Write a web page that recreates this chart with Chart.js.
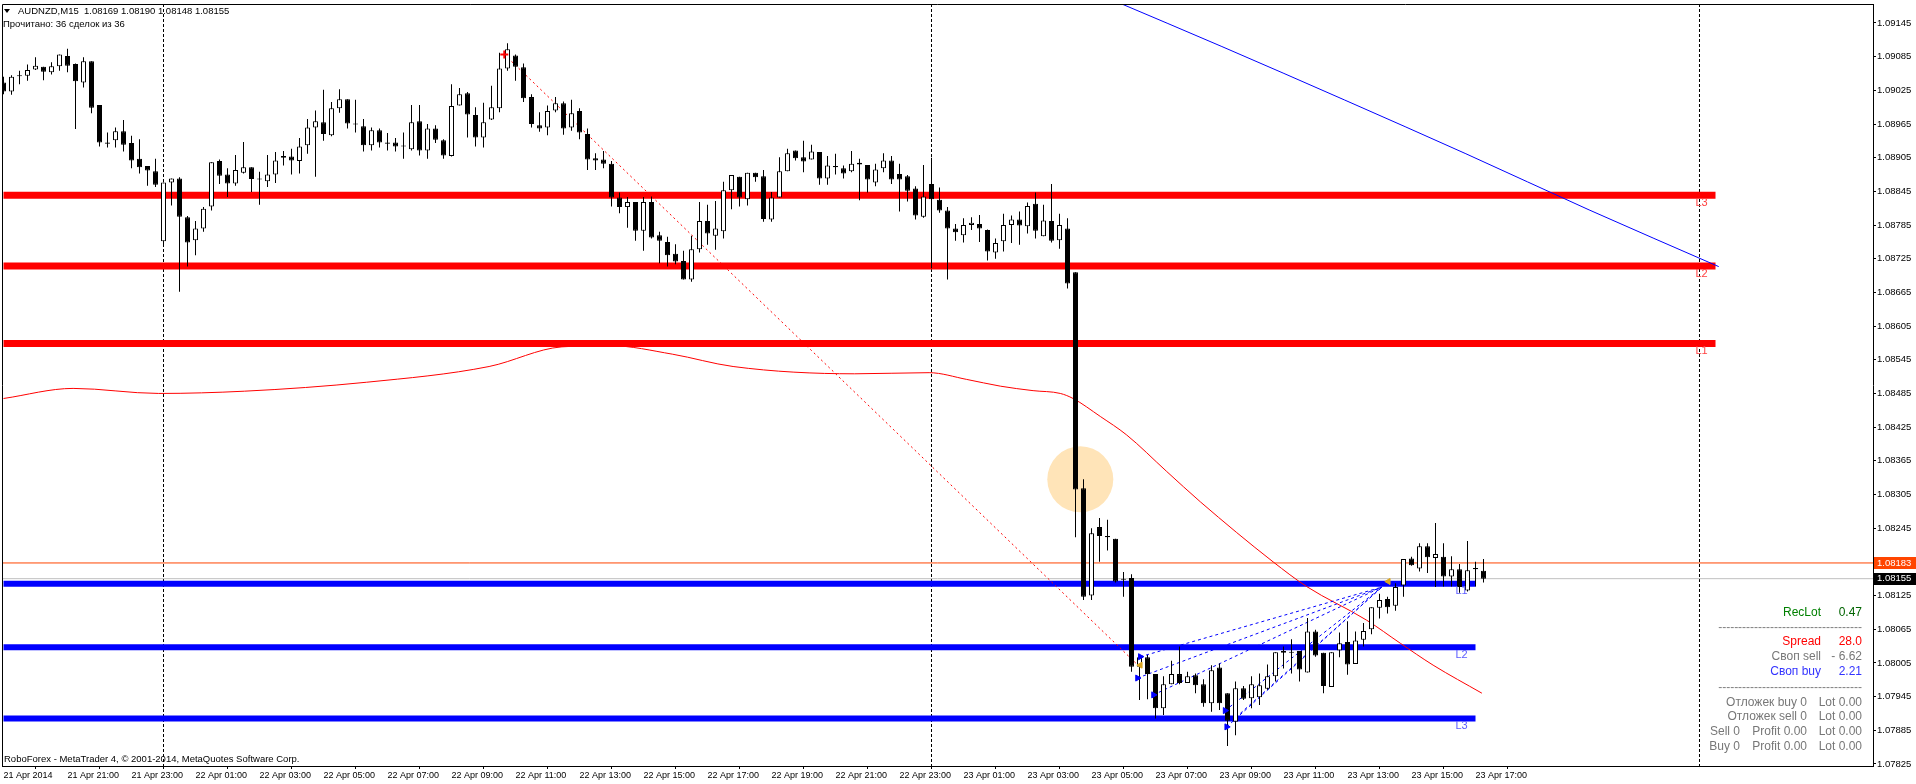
<!DOCTYPE html>
<html>
<head>
<meta charset="utf-8">
<script src="https://cdn.jsdelivr.net/npm/chart.js@4.4.1/dist/chart.umd.min.js"></script>
<style>
html, body { margin: 0; padding: 0; background: #fff; }
canvas { display: block; }
</style>
</head>
<body>
<canvas id="chart" width="1916" height="784"></canvas>
<script>
// AUDNZD M15 bars, first bar = 21 Apr 19:00
const opens = [
1.09039,1.09023,1.09050,1.09051,1.09062,1.09067,1.09057,1.09068,1.09086,1.09072,
1.09039,1.09077,1.08999,1.08932,1.08936,1.08952,1.08931,1.08903,1.08890,1.08881,
1.08756,1.08861,1.08868,1.08799,1.08758,1.08779,1.08818,1.08899,1.08875,1.08859,
1.08878,1.08888,1.08867,1.08863,1.08875,1.08908,1.08907,1.08899,1.08927,1.08959,
1.08968,1.08945,1.08993,1.09009,1.08966,1.08961,1.08927,1.08954,1.08932,1.08932,
1.08925,1.08920,1.08970,1.08918,1.08957,1.08936,1.08908,1.08998,1.09020,1.08981,
1.08941,1.08973,1.08993,1.09064,1.09087,1.09066,1.09013,1.08963,1.08959,1.08989,
1.09002,1.08959,1.08988,1.08947,1.08904,1.08902,1.08894,1.08834,1.08817,1.08826,
1.08775,1.08826,1.08767,1.08755,1.08734,1.08721,1.08688,1.08742,1.08792,1.08766,
1.08774,1.08847,1.08871,1.08831,1.08878,1.08872,1.08795,1.08834,1.08881,1.08918,
1.08906,1.08902,1.08915,1.08868,1.08890,1.08886,1.08881,1.08896,1.08892,1.08861,
1.08886,1.08900,1.08876,1.08872,1.08850,1.08800,1.08858,1.08830,1.08811,1.08779,
1.08767,1.08785,1.08787,1.08776,1.08736,1.08756,1.08785,1.08795,1.08783,1.08823,
1.08765,1.08792,1.08758,1.08779,1.08701,1.08316,1.08125,1.08247,1.08231,1.08226,
1.08155,1.08156,1.07998,1.08015,1.07985,1.07924,1.07967,1.07985,1.07969,1.07983,
1.07967,1.07933,1.07997,1.07951,1.07900,1.07960,1.07942,1.07944,1.07959,1.07981,
1.08026,1.08024,1.08026,1.07988,1.08061,1.08023,1.07962,1.08027,1.08042,1.08003,
1.08046,1.08065,1.08103,1.08119,1.08107,1.08143,1.08191,1.08173,1.08213,1.08192,
1.08194,1.08159,1.08172,1.08134,1.08174,1.08169];
const highs = [
1.09049,1.09052,1.09060,1.09071,1.09084,1.09067,1.09075,1.09089,1.09099,1.09073,
1.09084,1.09077,1.08999,1.08950,1.08959,1.08972,1.08944,1.08938,1.08890,1.08903,
1.08861,1.08868,1.08870,1.08801,1.08792,1.08817,1.08897,1.08902,1.08886,1.08910,
1.08933,1.08888,1.08880,1.08910,1.08915,1.08917,1.08921,1.08940,1.08974,1.08989,
1.09026,1.09004,1.09027,1.09009,1.09008,1.08974,1.08959,1.08957,1.08949,1.08940,
1.08950,1.08999,1.08999,1.08965,1.08963,1.08938,1.09036,1.09029,1.09022,1.08995,
1.09003,1.09033,1.09092,1.09109,1.09089,1.09073,1.09018,1.08986,1.08998,1.09013,
1.09005,1.09008,1.08993,1.08957,1.08913,1.08917,1.08899,1.08843,1.08835,1.08826,
1.08835,1.08836,1.08773,1.08764,1.08751,1.08739,1.08766,1.08826,1.08821,1.08828,
1.08862,1.08874,1.08871,1.08878,1.08878,1.08883,1.08844,1.08906,1.08921,1.08918,
1.08935,1.08928,1.08915,1.08908,1.08912,1.08891,1.08917,1.08903,1.08892,1.08894,
1.08913,1.08908,1.08894,1.08874,1.08854,1.08892,1.08905,1.08852,1.08817,1.08787,
1.08797,1.08799,1.08803,1.08777,1.08761,1.08805,1.08802,1.08809,1.08825,1.08843,
1.08821,1.08858,1.08805,1.08797,1.08701,1.08332,1.08245,1.08263,1.08260,1.08226,
1.08167,1.08163,1.08020,1.08019,1.07985,1.07981,1.08009,1.08034,1.07989,1.07986,
1.07976,1.08001,1.08004,1.07951,1.07972,1.07964,1.07981,1.07986,1.08002,1.08024,
1.08034,1.08047,1.08026,1.08085,1.08064,1.08023,1.08024,1.08059,1.08079,1.08061,
1.08076,1.08104,1.08128,1.08123,1.08147,1.08190,1.08194,1.08218,1.08218,1.08254,
1.08218,1.08195,1.08181,1.08222,1.08185,1.08190];
const lows = [
1.09018,1.09017,1.09036,1.09042,1.09061,1.09043,1.09053,1.09060,1.09057,1.08956,
1.09030,1.08984,1.08925,1.08923,1.08923,1.08916,1.08886,1.08877,1.08855,1.08853,
1.08748,1.08820,1.08666,1.08711,1.08731,1.08773,1.08811,1.08858,1.08835,1.08855,
1.08877,1.08844,1.08821,1.08853,1.08860,1.08891,1.08875,1.08877,1.08912,1.08871,
1.08935,1.08943,1.08985,1.08957,1.08950,1.08916,1.08918,1.08923,1.08918,1.08916,
1.08903,1.08918,1.08909,1.08903,1.08931,1.08903,1.08907,1.08998,1.08941,1.08925,
1.08923,1.08972,1.08986,1.09060,1.09042,1.09004,1.08959,1.08951,1.08945,1.08986,
1.08946,1.08953,1.08938,1.08883,1.08883,1.08886,1.08818,1.08806,1.08780,1.08757,
1.08739,1.08761,1.08717,1.08711,1.08715,1.08688,1.08684,1.08736,1.08750,1.08741,
1.08761,1.08813,1.08818,1.08820,1.08862,1.08791,1.08791,1.08834,1.08881,1.08900,
1.08879,1.08902,1.08857,1.08857,1.08875,1.08868,1.08879,1.08829,1.08843,1.08854,
1.08879,1.08858,1.08809,1.08827,1.08795,1.08798,1.08708,1.08807,1.08688,1.08757,
1.08754,1.08776,1.08755,1.08722,1.08725,1.08738,1.08753,1.08750,1.08770,1.08761,
1.08765,1.08754,1.08743,1.08672,1.08229,1.08117,1.08117,1.08185,1.08205,1.08148,
1.08123,1.07989,1.07939,1.07940,1.07906,1.07912,1.07967,1.07967,1.07969,1.07951,
1.07927,1.07918,1.07921,1.07857,1.07876,1.07939,1.07924,1.07930,1.07957,1.07972,
1.07995,1.07986,1.07972,1.07988,1.08016,1.07951,1.07962,1.08015,1.07984,1.08003,
1.08034,1.08056,1.08084,1.08093,1.08098,1.08123,1.08178,1.08168,1.08165,1.08140,
1.08141,1.08141,1.08130,1.08132,1.08141,1.08148];
const closes = [
1.09023,1.09049,1.09051,1.09061,1.09069,1.09058,1.09068,1.09089,1.09069,1.09041,
1.09077,1.08994,1.08932,1.08930,1.08952,1.08928,1.08900,1.08888,1.08882,1.08857,
1.08861,1.08868,1.08800,1.08754,1.08779,1.08814,1.08897,1.08873,1.08859,1.08883,
1.08888,1.08867,1.08866,1.08875,1.08900,1.08905,1.08900,1.08925,1.08959,1.08970,
1.08947,1.08993,1.09009,1.08966,1.08964,1.08927,1.08954,1.08932,1.08930,1.08925,
1.08926,1.08968,1.08918,1.08957,1.08937,1.08909,1.08997,1.09018,1.08982,1.08941,
1.08968,1.08995,1.09064,1.09098,1.09067,1.09011,1.08965,1.08957,1.08988,1.09002,
1.08957,1.08984,1.08950,1.08902,1.08900,1.08894,1.08834,1.08817,1.08826,1.08775,
1.08826,1.08763,1.08757,1.08731,1.08720,1.08688,1.08742,1.08792,1.08770,1.08779,
1.08847,1.08874,1.08834,1.08878,1.08870,1.08796,1.08834,1.08881,1.08913,1.08904,
1.08898,1.08916,1.08868,1.08891,1.08888,1.08877,1.08894,1.08893,1.08866,1.08884,
1.08900,1.08866,1.08866,1.08846,1.08802,1.08836,1.08831,1.08811,1.08779,1.08772,
1.08785,1.08789,1.08779,1.08738,1.08753,1.08785,1.08795,1.08784,1.08819,1.08775,
1.08793,1.08757,1.08785,1.08681,1.08314,1.08123,1.08236,1.08231,1.08229,1.08150,
1.08153,1.07998,1.08015,1.07985,1.07924,1.07967,1.07985,1.07969,1.07981,1.07965,
1.07933,1.07992,1.07933,1.07902,1.07960,1.07941,1.07967,1.07965,1.07981,1.08024,
1.08023,1.08023,1.07993,1.08061,1.08018,1.07964,1.08024,1.08040,1.08002,1.08045,
1.08062,1.08104,1.08117,1.08104,1.08140,1.08190,1.08179,1.08213,1.08193,1.08199,
1.08159,1.08172,1.08140,1.08170,1.08172,1.08155];

// time axis: one label every 8 bars
const timeTicks = [0,8,16,24,32,40,48,56,64,72,80,88,96,104,112,120,128,136,144,152,160,168,176,184];
const timeLabels = ['21 Apr 2014','21 Apr 21:00','21 Apr 23:00','22 Apr 01:00','22 Apr 03:00','22 Apr 05:00',
  '22 Apr 07:00','22 Apr 09:00','22 Apr 11:00','22 Apr 13:00','22 Apr 15:00','22 Apr 17:00','22 Apr 19:00',
  '22 Apr 21:00','22 Apr 23:00','23 Apr 01:00','23 Apr 03:00','23 Apr 05:00','23 Apr 07:00','23 Apr 09:00',
  '23 Apr 11:00','23 Apr 13:00','23 Apr 15:00','23 Apr 17:00'];
const priceTicks = [1.07825,1.07885,1.07945,1.08005,1.08065,1.08125,1.08185,1.08245,1.08305,1.08365,1.08425,
  1.08485,1.08545,1.08605,1.08665,1.08725,1.08785,1.08845,1.08905,1.08965,1.09025,1.09085,1.09145];
const daySeparators = [20, 116, 212];

// levels drawn by the indicator
const redLevels = [1.08838, 1.08712, 1.08574];
const redNames = ['L3', 'L2', 'L1'];
const redLevelEnd = 214;
const blueLevels = [1.08146, 1.08033, 1.07906];
const blueNames = ['L1', 'L2', 'L3'];
const blueLevelEnd = 184;
const askPrice = 1.08183;
const bidPrice = 1.08155;

// moving averages
const maRedX = [0,8.7,19.4,30.1,45.4,60.7,69.8,75.9,83.6,91.2,106.4,115.7,120.4,124.6,128.7,132.1,133.7,137.1,140.4,145.4,149.6,158.7,162.9,170.4,174.6,178.7,184.8];
const maRedY = [1.08476,1.08494,1.08485,1.08489,1.08505,1.08533,1.08568,1.08570,1.08555,1.08533,1.08520,1.08522,1.08510,1.08498,1.08490,1.08485,1.08476,1.08444,1.08411,1.08346,1.08292,1.08185,1.08141,1.08081,1.08040,1.08001,1.07951];
const maBlueX = [138.6,152.3,167.6,182.8,198.2,214.4];
const maBlueY = [1.09186,1.09103,1.09008,1.08912,1.08812,1.08711];

// trade lines
const trendX = [62.6, 141.8];
const trendY = [1.09089, 1.08001];
const fanStartX = [142.1, 141.75, 143.75, 152.7, 152.9, 154.6];
const fanStartY = [1.08016, 1.07978, 1.07948, 1.07920, 1.07891, 1.07915];
const fanEndX = 172.3;
const fanEndY = 1.08140;
const orangeMarkX = [142.1, 173.1];
const orangeMarkY = [1.08001, 1.08150];
const circleX = 134.6;
const circleY = 1.08332;

Chart.defaults.font.family = "'Liberation Sans', Arial, sans-serif";
Chart.defaults.color = '#000';

const idx = opens.map((_, i) => i);
const ctx = document.getElementById('chart').getContext('2d');

function hLine(y, x1, color, w) {
  return { type: 'line', data: [{ x: 0, y: y }, { x: x1, y: y }], borderColor: color, borderWidth: w,
    pointRadius: 0, order: 6, clip: 0 };
}

const datasets = [];
// candle bodies and wicks
datasets.push({
  type: 'bar', label: 'body', order: 0, grouped: false,
  data: idx.map(i => ({ x: i, y: [opens[i], closes[i]] })),
  backgroundColor: idx.map(i => closes[i] > opens[i] ? '#ffffff' : '#000000'),
  borderColor: '#000', borderWidth: 1, borderSkipped: false, barThickness: 5,
  minBarLength: 1, inflateAmount: 0
});
datasets.push({
  type: 'bar', label: 'wick', order: 1, grouped: false,
  data: idx.map(i => ({ x: i, y: [lows[i], highs[i]] })),
  backgroundColor: '#000', borderWidth: 0, barThickness: 1, inflateAmount: 0
});
redLevels.forEach(v => datasets.push(hLine(v, redLevelEnd, '#ff0000', 7)));
blueLevels.forEach(v => datasets.push(hLine(v, blueLevelEnd, '#0000ff', 6)));
datasets.push({ type: 'line', data: [{ x: -1, y: askPrice }, { x: 240, y: askPrice }], borderColor: '#ff4500',
  borderWidth: 1, pointRadius: 0, order: 5, clip: 0 });
datasets.push({ type: 'line', data: [{ x: -1, y: bidPrice }, { x: 240, y: bidPrice }], borderColor: '#c0c0c0',
  borderWidth: 1, pointRadius: 0, order: 5, clip: 0 });
datasets.push({ type: 'line', data: maRedX.map((x, i) => ({ x: x, y: maRedY[i] })), borderColor: '#ff0000',
  borderWidth: 1, pointRadius: 0, cubicInterpolationMode: 'monotone', order: 4, clip: 0 });
datasets.push({ type: 'line', data: maBlueX.map((x, i) => ({ x: x, y: maBlueY[i] })), borderColor: '#0000ff',
  borderWidth: 1, pointRadius: 0, cubicInterpolationMode: 'monotone', order: 4, clip: 0 });
datasets.push({ type: 'line', data: trendX.map((x, i) => ({ x: x, y: trendY[i] })), borderColor: '#ff0000',
  borderWidth: 1, borderDash: [2, 3], pointRadius: 0, order: 3, clip: 0 });
fanStartX.forEach((x, i) => datasets.push({ type: 'line',
  data: [{ x: x, y: fanStartY[i] }, { x: fanEndX, y: fanEndY }], borderColor: '#0000ff',
  borderWidth: 1, borderDash: [3, 3], pointRadius: 0, order: 3, clip: 0 }));
datasets.push({ type: 'scatter', data: [{ x: circleX, y: circleY }], pointRadius: 33,
  backgroundColor: '#ffe4b8', borderWidth: 0, order: 9, clip: 0 });
datasets.push({ type: 'scatter', data: fanStartX.slice(0, 5).map((x, i) => ({ x: x, y: fanStartY[i] })),
  pointStyle: 'triangle', rotation: 90, pointRadius: 3.5, backgroundColor: '#0000ff', borderColor: '#0000ff',
  order: -1, clip: 0 });
datasets.push({ type: 'scatter', data: orangeMarkX.map((x, i) => ({ x: x, y: orangeMarkY[i] })),
  pointStyle: 'triangle', rotation: -90, pointRadius: 3.5, backgroundColor: '#daa520', borderColor: '#daa520',
  order: -1, clip: 0 });
datasets.push({ type: 'scatter', data: [{ x: trendX[0], y: trendY[0] }], pointStyle: 'cross',
  pointRadius: 4, borderWidth: 2, borderColor: '#ff0000', order: -1, clip: 0 });

const terminal = {
  id: 'terminal',
  beforeDatasetsDraw(chart) {
    const { ctx, chartArea: a, scales: { x } } = chart;
    ctx.save();
    ctx.strokeStyle = '#000';
    ctx.lineWidth = 1;
    ctx.setLineDash([3, 2]);
    daySeparators.forEach(i => {
      const px = x.getPixelForValue(i);
      ctx.beginPath();
      ctx.moveTo(px, a.top);
      ctx.lineTo(px, a.bottom);
      ctx.stroke();
    });
    ctx.restore();
  },
  afterDatasetsDraw(chart) {
    const { ctx, scales: { x, y } } = chart;
    ctx.save();
    ctx.font = "11px 'Liberation Sans'";
    ctx.textBaseline = 'top';
    ctx.fillStyle = '#ff4040';
    redLevels.forEach((v, i) => ctx.fillText(redNames[i], x.getPixelForValue(redLevelEnd) - 20, y.getPixelForValue(v) + 2));
    ctx.fillStyle = '#5c5cff';
    blueLevels.forEach((v, i) => ctx.fillText(blueNames[i], x.getPixelForValue(blueLevelEnd) - 20, y.getPixelForValue(v) + 2));
    ctx.restore();
  },
  afterDraw(chart) {
    const { ctx, chartArea: a, scales: { y } } = chart;
    ctx.save();
    // frame
    ctx.strokeStyle = '#000';
    ctx.lineWidth = 1;
    ctx.beginPath();
    ctx.moveTo(a.left + 0.5, a.bottom);
    ctx.lineTo(a.left + 0.5, a.top + 0.5);
    ctx.lineTo(a.right, a.top + 0.5);
    ctx.stroke();

    // header
    ctx.fillStyle = '#000';
    ctx.beginPath();
    ctx.moveTo(4, 9); ctx.lineTo(10, 9); ctx.lineTo(7, 13); ctx.closePath(); ctx.fill();
    ctx.font = "9.5px 'Liberation Sans'";
    ctx.textBaseline = 'middle';
    ctx.textAlign = 'left';
    ctx.fillText('AUDNZD,M15  1.08169 1.08190 1.08148 1.08155', 18, 11);
    ctx.fillText('Прочитано: 36 сделок из 36', 3, 24);
    ctx.fillText('RoboForex - MetaTrader 4, © 2001-2014, MetaQuotes Software Corp.', 4, 759);

    // price tags on the axis
    [[askPrice, '#ff4500'], [bidPrice, '#000000']].forEach(([v, c]) => {
      const py = y.getPixelForValue(v);
      ctx.fillStyle = c;
      ctx.fillRect(a.right + 1, Math.round(py) - 6, 1916 - a.right - 1, 12);
      ctx.fillStyle = '#fff';
      ctx.fillText(v.toFixed(5), a.right + 4, py);
    });

    // info panel
    const R1 = 1821, R2 = 1862;
    ctx.font = "12px 'Liberation Sans'";
    ctx.textAlign = 'right';
    const row = (txt, xr, yy, col) => { ctx.fillStyle = col; ctx.fillText(txt, xr, yy); };
    row('RecLot', R1, 613, '#008000'); row('0.47', R2, 613, '#006400');
    row('-'.repeat(36), R2, 628, '#808080');
    row('Spread', R1, 642, '#ff0000'); row('28.0', R2, 642, '#ff0000');
    row('Своп sell', R1, 657, '#777777'); row('- 6.62', R2, 657, '#777777');
    row('Своп buy', R1, 672, '#3333ff'); row('2.21', R2, 672, '#3333ff');
    row('-'.repeat(36), R2, 688, '#808080');
    row('Отложек buy 0', 1807, 703, '#777777'); row('Lot 0.00', R2, 703, '#777777');
    row('Отложек sell 0', 1807, 717, '#777777'); row('Lot 0.00', R2, 717, '#777777');
    row('Sell 0', 1740, 732, '#777777'); row('Profit 0.00', 1807, 732, '#777777'); row('Lot 0.00', R2, 732, '#777777');
    row('Buy 0', 1740, 747, '#777777'); row('Profit 0.00', 1807, 747, '#777777'); row('Lot 0.00', R2, 747, '#777777');
    ctx.restore();
  }
};

// drop any label overflow padding so the plot keeps MT4's fixed frame
function noPad(s) { s.paddingLeft = 0; s.paddingRight = 0; s.paddingTop = 0; s.paddingBottom = 0; }

const chart = new Chart(ctx, {
  type: 'bar',
  data: { datasets: datasets },
  plugins: [terminal],
  options: {
    responsive: false,
    animation: false,
    devicePixelRatio: 1,
    events: [],
    layout: { autoPadding: false, padding: { left: 2, top: 4, right: 0, bottom: 0 } },
    plugins: { legend: { display: false }, tooltip: { enabled: false }, title: { display: false } },
    scales: {
      x: {
        type: 'linear', min: -0.1875, max: 233.6875, offset: false,
        afterBuildTicks: s => { s.ticks = timeTicks.map(v => ({ value: v })); },
        afterFit: s => { s.height = 18; noPad(s); },
        grid: { display: true, drawOnChartArea: false, drawTicks: true, tickLength: 3, color: '#000' },
        border: { display: true, color: '#000' },
        ticks: { autoSkip: false, maxRotation: 0, align: 'start', padding: 1, color: '#000',
          font: { size: 9 }, callback: (v, i) => timeLabels[i] }
      },
      y: {
        position: 'right', min: 1.078213, max: 1.091788,
        afterBuildTicks: s => { s.ticks = priceTicks.map(v => ({ value: v })); },
        afterFit: s => { s.width = 43; noPad(s); },
        grid: { display: true, drawOnChartArea: false, drawTicks: true, tickLength: 3, color: '#000' },
        border: { display: true, color: '#000' },
        ticks: { padding: 1, crossAlign: 'near', color: '#000', font: { size: 9.5 },
          callback: v => v.toFixed(5) }
      }
    }
  }
});
</script>
</body>
</html>
